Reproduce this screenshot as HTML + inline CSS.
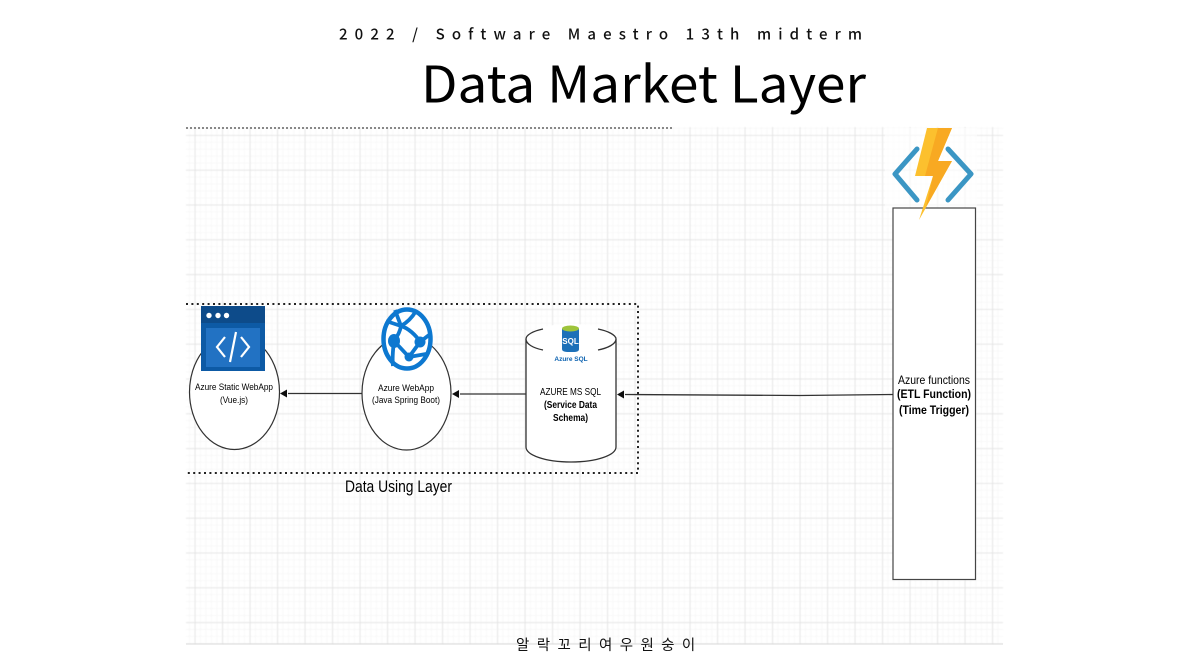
<!DOCTYPE html>
<html><head><meta charset="utf-8">
<style>
html,body{margin:0;padding:0;background:#fff}
body{width:1202px;height:670px;overflow:hidden;position:relative}
svg{position:absolute;left:0;top:0}
</style></head>
<body>
<svg width="1202" height="670" viewBox="0 0 1202 670" xmlns="http://www.w3.org/2000/svg">
<defs>
<pattern id="minor" x="194.7" y="135" width="5.5" height="6.96" patternUnits="userSpaceOnUse">
<path d="M0 0V6.96M0 0H5.5" stroke="#f3f3f3" stroke-width="1" fill="none"/>
</pattern>
<pattern id="major" x="194.7" y="135" width="27.5" height="34.8" patternUnits="userSpaceOnUse">
<path d="M0 0V34.8M0 0H27.5" stroke="#e0e0e0" stroke-width="1.5" fill="none"/>
</pattern>
<filter id="g" x="-2%" y="-2%" width="104%" height="104%"><feGaussianBlur stdDeviation="0.4"/></filter>
<filter id="b" x="-5%" y="-5%" width="110%" height="110%"><feGaussianBlur stdDeviation="0.35"/></filter>
<filter id="t" x="-5%" y="-20%" width="110%" height="140%"><feGaussianBlur stdDeviation="0.3"/></filter>
</defs>
<g filter="url(#g)">
<rect x="186" y="127" width="817" height="517" fill="url(#minor)"/>
<rect x="186" y="127" width="817" height="517" fill="url(#major)"/>
</g>
<line x1="186" y1="644" x2="1003" y2="644" stroke="#d8d8d8"/>
<rect x="885" y="128" width="92" height="80" fill="#fff" opacity=".6"/>

<text x="339" y="39.500" textLength="523" font-family="'Noto Sans CJK KR','Liberation Sans',sans-serif" font-size="15" font-weight="500" fill="#111">2022 / Software Maestro 13th midterm</text>
<text x="421" y="102.500" textLength="445" lengthAdjust="spacingAndGlyphs" font-family="'Noto Sans CJK KR','Liberation Sans',sans-serif" font-size="50.500" fill="#000">Data Market Layer</text>

<g filter="url(#b)">
<line x1="186" y1="128" x2="672" y2="128" stroke="#888" stroke-width="2" stroke-dasharray="2 2"/>
<path d="M186 304H638V473H186" fill="none" stroke="#222" stroke-width="2" stroke-dasharray="2 3.4"/>

<ellipse cx="234.500" cy="392" rx="45" ry="57.500" fill="#fff" stroke="#333" stroke-width="1.200"/>
<ellipse cx="406.500" cy="393" rx="44.500" ry="57" fill="#fff" stroke="#333" stroke-width="1.200"/>

<path d="M526 339V447C526 455 545 462 571 462C597 462 616 455 616 447V339" fill="#fff" stroke="#333" stroke-width="1.300"/>
<path d="M526 339C526 331 545 324 571 324C597 324 616 331 616 339C616 347 597 351 571 351C545 351 526 347 526 339Z" fill="#fff" stroke="none"/>
<path d="M543 329C533 331 526 335 526 339C526 344 533 348 543 350M598 329C608 331 616 335 616 339C616 344 608 348 598 350" fill="none" stroke="#333" stroke-width="1.300"/>

<rect x="893" y="208" width="82.500" height="371.500" fill="#fff" stroke="#444" stroke-width="1.200"/>

<path d="M893 394.500L800 395.500L625 394.500" fill="none" stroke="#333" stroke-width="1.300"/>
<path d="M617 394.500L624 390.500V398.500Z" fill="#111"/>
<line x1="526" y1="394" x2="460" y2="394" stroke="#333" stroke-width="1.300"/>
<path d="M452 394L459 390V398Z" fill="#111"/>
<line x1="362" y1="393.500" x2="288" y2="393.500" stroke="#333" stroke-width="1.300"/>
<path d="M280 393.500L287 389.500V397.500Z" fill="#111"/>

<!-- static web app icon -->
<rect x="201" y="306" width="64" height="65" fill="#0b5aa5"/>
<rect x="201" y="306" width="64" height="17" fill="#0a4b8a"/>
<rect x="206" y="328" width="54" height="39" fill="#2272c3"/>
<circle cx="209" cy="315.500" r="2.700" fill="#fff"/>
<circle cx="218" cy="315.500" r="2.700" fill="#fff"/>
<circle cx="226.500" cy="315.500" r="2.700" fill="#fff"/>
<path d="M225 337L217 347L225 357M241 337L249 347L241 357M236 332L230 362" fill="none" stroke="#fff" stroke-width="2.200"/>

<!-- web app icon -->
<ellipse cx="407" cy="339" rx="25.500" ry="31.500" fill="#fff"/>
<ellipse cx="407" cy="339" rx="23.500" ry="29.500" fill="none" stroke="#1078d0" stroke-width="4.500"/>
<path d="M386 321L401 326C400 332 397 337 394 341C393 349 392 358 393 366M395 310L401 326C408 328 416 335 420 342M401 326C408 322 413 316 416 311M394 341L409 357L420 342L429 335M409 357L426 354" fill="none" stroke="#1078d0" stroke-width="3.800"/>
<ellipse cx="394" cy="341" rx="6" ry="7" fill="#1078d0"/>
<circle cx="420" cy="342" r="5.500" fill="#1078d0"/>
<circle cx="409" cy="357" r="4.500" fill="#1078d0"/>

<!-- sql icon -->
<path d="M562 329V349C562 352 566 352 571 352C576 352 579 352 579 349V329Z" fill="#1c6fb8"/>
<ellipse cx="570.500" cy="328.500" rx="8.500" ry="3" fill="#9ec43a"/>
<text x="570.500" y="344" text-anchor="middle" font-family="'Liberation Sans',sans-serif" font-size="8" font-weight="bold" fill="#fff">SQL</text>
<text x="571" y="361" text-anchor="middle" font-family="'Liberation Sans',sans-serif" font-size="6.500" font-weight="bold" fill="#0b62b0">Azure SQL</text>

<!-- function icon -->
<path d="M917 149L895 174L917 200M948 149L971 174L948 200" fill="none" stroke="#3a96c4" stroke-width="5" stroke-linecap="round" stroke-linejoin="round"/>
<path d="M927 128H952L938 161H952L919 220L933 176H915Z" fill="#fcc02e"/>
<path d="M938 128H952L938 161H952L926 207L933 176H925L932 150Z" fill="#f8a920"/>
</g>

<g filter="url(#t)" font-family="'Liberation Sans',sans-serif" fill="#000">
<text x="195" y="390" font-size="9.500" textLength="78" lengthAdjust="spacingAndGlyphs">Azure Static WebApp</text>
<text x="220" y="403" font-size="9.500" textLength="28" lengthAdjust="spacingAndGlyphs">(Vue.js)</text>
<text x="378" y="391" font-size="9.500" textLength="56" lengthAdjust="spacingAndGlyphs">Azure WebApp</text>
<text x="372" y="403" font-size="9.500" textLength="68" lengthAdjust="spacingAndGlyphs">(Java Spring Boot)</text>
<text x="540" y="395" font-size="10.500" textLength="61" lengthAdjust="spacingAndGlyphs">AZURE MS SQL</text>
<text x="544" y="408" font-size="10.500" font-weight="bold" textLength="53" lengthAdjust="spacingAndGlyphs">(Service Data</text>
<text x="553" y="421" font-size="10.500" font-weight="bold" textLength="35" lengthAdjust="spacingAndGlyphs">Schema)</text>
<text x="898" y="384" font-size="12" textLength="72" lengthAdjust="spacingAndGlyphs">Azure functions</text>
<text x="897" y="398" font-size="12" font-weight="bold" textLength="74" lengthAdjust="spacingAndGlyphs">(ETL Function)</text>
<text x="899" y="414" font-size="12" font-weight="bold" textLength="70" lengthAdjust="spacingAndGlyphs">(Time Trigger)</text>
<text x="345" y="492" font-size="17" textLength="107" lengthAdjust="spacingAndGlyphs">Data Using Layer</text>
</g>

<text x="516" y="650" font-family="'Liberation Sans','Noto Sans CJK KR',sans-serif" font-size="14.500" letter-spacing="7.400" fill="#111">알락꼬리여우원숭이</text>
</svg>
</body></html>
